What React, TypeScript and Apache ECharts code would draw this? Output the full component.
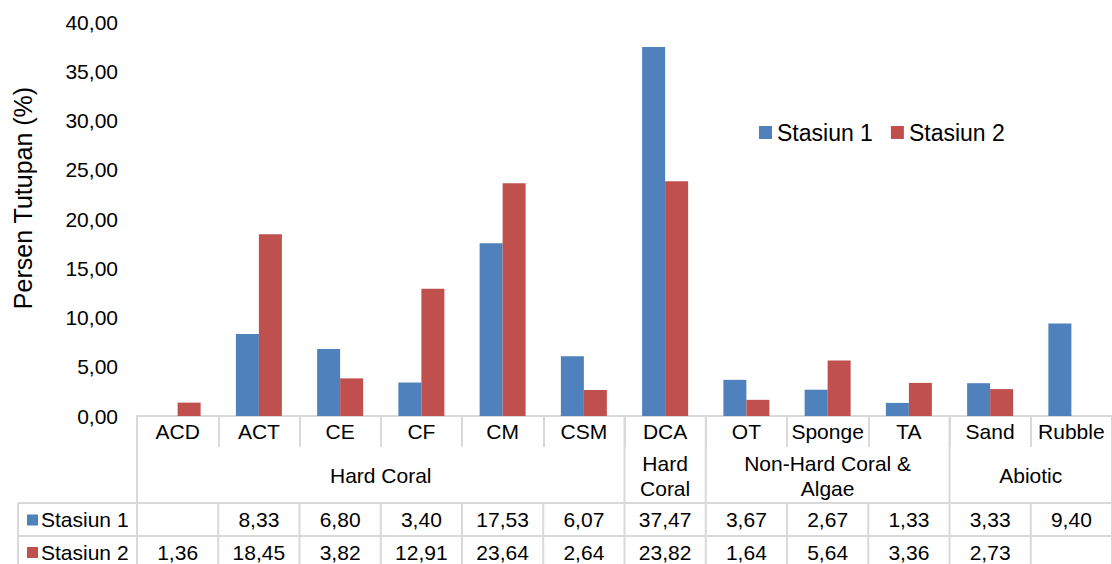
import React, { useEffect, useRef } from "react";
import * as echarts from "echarts";

const categories = ["ACD", "ACT", "CE", "CF", "CM", "CSM", "DCA", "OT", "Sponge", "TA", "Sand", "Rubble"];
const stasiun1: (number | null)[] = [null, 8.33, 6.8, 3.4, 17.53, 6.07, 37.47, 3.67, 2.67, 1.33, 3.33, 9.4];
const stasiun2: (number | null)[] = [1.36, 18.45, 3.82, 12.91, 23.64, 2.64, 23.82, 1.64, 5.64, 3.36, 2.73, null];
const seriesNames = ["Stasiun 1", "Stasiun 2"];
const seriesColors = ["#4F81BD", "#C0504D"];
const groupLabels = ["Hard Coral", "Hard\nCoral", "Non-Hard Coral &\nAlgae", "Abiotic"];
const groupStarts = [0, 6, 7, 10];
const groupEnds = [5, 6, 9, 11];
const yMin = 0;
const yMax = 40;
const yInterval = 5;
const yAxisTitle = "Persen Tutupan (%)";

const FONT = '"Liberation Sans", Arial, sans-serif';
const LINE = "#d9d9d9";

const fmt = (v: number) => v.toFixed(2).replace(".", ",");

export default function App() {
  const ref = useRef<HTMLDivElement>(null);
  useEffect(() => {
    document.body.style.margin = "0";
    const chart = echarts.init(ref.current!, null, { renderer: "svg" });
    const option: any = {
      animation: false,
      grid: { left: 137, right: 0, top: 22, bottom: 148, containLabel: false },
      legend: {
        left: 754,
        top: 116,
        itemWidth: 13,
        itemHeight: 13,
        itemGap: 18,
        icon: "rect",
        textStyle: { fontSize: 23, fontFamily: FONT, color: "#000" },
        data: seriesNames,
      },
      xAxis: {
        type: "category",
        data: categories,
        axisLine: { lineStyle: { color: LINE, width: 2 } },
        axisTick: { show: true, length: 31, interval: 0, lineStyle: { color: LINE, width: 2 } },
        axisLabel: { interval: 0, fontSize: 21, fontFamily: FONT, color: "#000", margin: 5 },
        splitLine: { show: false },
      },
      yAxis: {
        type: "value",
        min: yMin,
        max: yMax,
        interval: yInterval,
        axisLine: { show: false },
        axisTick: { show: false },
        splitLine: { show: false },
        axisLabel: { formatter: (v: number) => fmt(v), fontSize: 21, fontFamily: FONT, color: "#000", margin: 19 },
      },
      series: [
        { name: seriesNames[0], type: "bar", data: stasiun1, barWidth: 23, barGap: "0%", itemStyle: { color: seriesColors[0] } },
        { name: seriesNames[1], type: "bar", data: stasiun2, barWidth: 23, barGap: "0%", itemStyle: { color: seriesColors[1] } },
      ],
    };
    chart.setOption(option);

    const cx = (i: number) => chart.convertToPixel({ xAxisIndex: 0 }, categories[i]) as number;
    const half = (cx(1) - cx(0)) / 2;
    const bound = (i: number) => cx(0) - half + i * 2 * half; // boundary left of column i
    const y0 = chart.convertToPixel({ yAxisIndex: 0 }, 0) as number;
    const catBottom = y0 + 30;
    const groupBottom = y0 + 87;
    const row1Bottom = y0 + 120;
    const tableBottom = 568;
    const tableLeft = 18;
    const right = bound(categories.length);

    const g: any[] = [];
    const line = (x1: number, y1: number, x2: number, y2: number) =>
      g.push({ type: "line", shape: { x1, y1, x2, y2 }, style: { stroke: LINE, lineWidth: 2 }, silent: true });
    const text = (t: string, x: number, y: number, align = "center", size = 21) =>
      g.push({
        type: "text",
        x,
        y,
        style: { text: t, align, verticalAlign: "middle", fontSize: size, fontFamily: FONT, fill: "#000", lineHeight: 25 },
        silent: true,
      });

    // group separators
    groupStarts.forEach((s) => line(bound(s), y0, bound(s), groupBottom));
    line(right, y0, right, groupBottom);
    // horizontal table lines
    line(tableLeft, groupBottom, right, groupBottom);
    line(tableLeft, row1Bottom, right, row1Bottom);
    // data-row verticals
    line(tableLeft, groupBottom, tableLeft, tableBottom);
    for (let i = 0; i <= categories.length; i++) line(bound(i), groupBottom, bound(i), tableBottom);

    // group labels
    groupLabels.forEach((lab, k) => {
      const mid = (bound(groupStarts[k]) + bound(groupEnds[k] + 1)) / 2;
      text(lab, mid, (catBottom + groupBottom) / 2 + 1);
    });

    // data rows
    const rows = [stasiun1, stasiun2];
    rows.forEach((vals, r) => {
      const yc = r === 0 ? (groupBottom + row1Bottom) / 2 : row1Bottom + 16;
      g.push({
        type: "rect",
        shape: { x: 27, y: yc - 5, width: 11, height: 11 },
        style: { fill: seriesColors[r] },
        silent: true,
      });
      text(seriesNames[r], 41, yc, "left");
      vals.forEach((v, i) => {
        if (v !== null) text(fmt(v), cx(i), yc);
      });
    });

    // y-axis title
    g.push({
      type: "text",
      x: 23,
      y: 198,
      rotation: Math.PI / 2,
      style: { text: yAxisTitle, align: "center", verticalAlign: "middle", fontSize: 25, fontFamily: FONT, fill: "#000" },
      silent: true,
    });

    chart.setOption({ graphic: g });
    return () => chart.dispose();
  }, []);
  return <div ref={ref} style={{ width: 1112, height: 564 }} />;
}
